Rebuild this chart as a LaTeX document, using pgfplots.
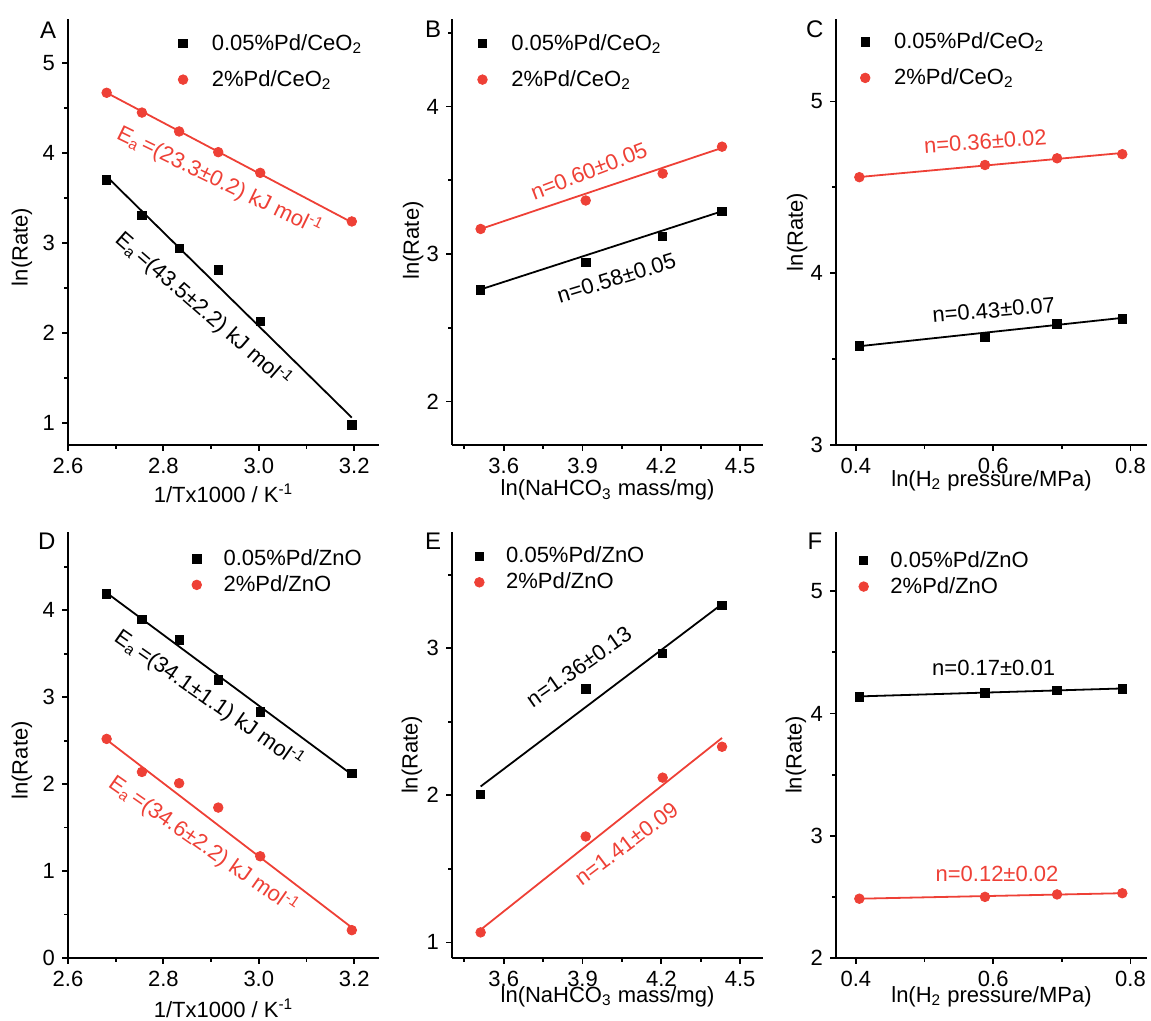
\documentclass[border=0pt]{standalone}
\usepackage{fontspec}
\setmainfont{Liberation Sans}
\usepackage{pgfplots}
\pgfplotsset{compat=1.18}

\definecolor{myred}{RGB}{238,64,54}
\newcommand{\fs}{\fontsize{11}{13}\selectfont}
\newcommand{\Ea}{E\textsubscript{a}\kern1.5pt}
\tikzset{letter/.style={font=\fontsize{12}{14}\selectfont}}

\pgfplotsset{
  panel/.style={
    scale only axis, width=155.5pt, height=213pt,
    anchor=south west,
    axis x line*=bottom, axis y line*=left,
    axis line style={line width=0.9pt, -},
    every tick/.style={line width=0.9pt, black},
    tick align=outside,
    major tick length=3pt, minor tick length=1.8pt,
    tick label style={font=\fs},
    label style={font=\fs},
    /pgf/number format/assume math mode=true,
    legend style={draw=none, fill=none, font=\fs, anchor=north west,
      nodes={inner sep=2pt}, row sep=4.5pt,
      /tikz/every odd column/.append style={column sep=10pt}},
    legend cell align=left,
    clip=false,
  },
  zno/.style={legend style={nodes={inner sep=1pt}, row sep=1.5pt}},
  blk/.style={only marks, mark=square*, mark size=2.1pt, black},
  rd/.style={only marks, mark=*, mark size=2.4pt, myred, mark options={fill=myred, draw=myred}},
  fitb/.style={black, line width=0.9pt, forget plot},
  fitr/.style={myred, line width=0.9pt, forget plot},
  onedec/.style={xticklabel style={/pgf/number format/fixed,
      /pgf/number format/fixed zerofill, /pgf/number format/precision=1}},
}

\begin{document}
\begin{tikzpicture}
\path[use as bounding box] (0,0) rectangle (575.5pt,510.5pt);

% ---------- A ----------
\begin{axis}[panel, onedec, at={(34pt,288pt)},
  xmin=2.6, xmax=3.252, ymin=0.756, ymax=5.49,
  xtick={2.6,2.8,3.0,3.2}, minor xtick={2.7,2.9,3.1},
  ytick={1,2,3,4,5}, minor ytick={1.5,2.5,3.5,4.5},
  xlabel={1/Tx1000 / K\textsuperscript{-1}}, ylabel={ln(Rate)},
  xlabel style={at={(axis description cs:0.5,-0.113)}, anchor=center},
  ylabel style={at={(axis description cs:-0.148,0.465)}, anchor=center},
  legend style={at={(axis description cs:0.334,0.984)}}]
\addplot[fitb] coordinates {(2.681,3.74) (3.195,1.06)};
\addplot[fitr] coordinates {(2.681,4.67) (3.195,3.23)};
\addplot[blk] coordinates {(2.681,3.70) (2.755,3.31) (2.833,2.94) (2.915,2.70) (3.003,2.13) (3.195,0.98)};
\addplot[rd] coordinates {(2.681,4.67) (2.755,4.45) (2.833,4.24) (2.915,4.01) (3.003,3.78) (3.195,3.24)};
\legend{0.05\%Pd/CeO\textsubscript{2}, 2\%Pd/CeO\textsubscript{2}}
\node[font=\fs, rotate=-26, text=myred] at (2.918,3.69) {\Ea=(23.3±0.2) kJ mol\textsuperscript{-1}};
\node[font=\fs, rotate=-41] at (2.884,2.256) {\Ea=(43.5±2.2) kJ mol\textsuperscript{-1}};
\node[letter] at (axis description cs:-0.064,0.974) {A};
\end{axis}

% ---------- B ----------
\begin{axis}[panel, at={(226pt,288pt)},
  xmin=3.403, xmax=4.587, ymin=1.705, ymax=4.594,
  xtick={3.6,3.9,4.2,4.5}, minor xtick={3.45,3.75,4.05,4.35},
  ytick={2,3,4}, minor ytick={2.5,3.5,4.5},
  xlabel={ln(NaHCO\textsubscript{3} mass/mg)}, ylabel={ln(Rate)},
  xlabel style={at={(axis description cs:0.5,-0.106)}, anchor=center},
  ylabel style={at={(axis description cs:-0.125,0.48)}, anchor=center},
  legend style={at={(axis description cs:0.062,0.984)}}]
\addplot[fitb] coordinates {(3.512,2.76) (4.431,3.29)};
\addplot[fitr] coordinates {(3.512,3.17) (4.431,3.72)};
\addplot[blk] coordinates {(3.512,2.757) (3.912,2.943) (4.205,3.12) (4.431,3.29)};
\addplot[rd] coordinates {(3.512,3.17) (3.912,3.363) (4.205,3.546) (4.431,3.728)};
\legend{0.05\%Pd/CeO\textsubscript{2}, 2\%Pd/CeO\textsubscript{2}}
\node[font=\fs, rotate=21, text=myred] at (3.924,3.562) {n=0.60±0.05};
\node[font=\fs, rotate=17] at (4.029,2.837) {n=0.58±0.05};
\node[letter] at (axis description cs:-0.061,0.977) {B};
\end{axis}

% ---------- C ----------
\begin{axis}[panel, onedec, at={(418pt,288pt)},
  xmin=0.371, xmax=0.824, ymin=3, ymax=5.48,
  xtick={0.4,0.6,0.8}, minor xtick={0.5,0.7},
  ytick={3,4,5}, minor ytick={3.5,4.5},
  xlabel={ln(H\textsubscript{2} pressure/MPa)}, ylabel={ln(Rate)},
  xlabel style={at={(axis description cs:0.5,-0.083)}, anchor=center},
  ylabel style={at={(axis description cs:-0.125,0.50)}, anchor=center},
  legend style={at={(axis description cs:0.058,0.988)}}]
\addplot[fitb] coordinates {(0.405,3.575) (0.788,3.74)};
\addplot[fitr] coordinates {(0.405,4.56) (0.788,4.70)};
\addplot[blk] coordinates {(0.405,3.576) (0.588,3.625) (0.693,3.704) (0.788,3.733)};
\addplot[rd] coordinates {(0.405,4.559) (0.588,4.63) (0.693,4.669) (0.788,4.693)};
\legend{0.05\%Pd/CeO\textsubscript{2}, 2\%Pd/CeO\textsubscript{2}}
\node[font=\fs, rotate=4, text=myred] at (0.5885,4.767) {n=0.36±0.02};
\node[font=\fs, rotate=5] at (0.6006,3.786) {n=0.43±0.07};
\node[letter] at (axis description cs:-0.068,0.975) {C};
\end{axis}

% ---------- D ----------
\begin{axis}[panel, zno, onedec, at={(34pt,31.5pt)},
  xmin=2.6, xmax=3.252, ymin=0, ymax=4.9,
  xtick={2.6,2.8,3.0,3.2}, minor xtick={2.7,2.9,3.1},
  ytick={0,1,2,3,4}, minor ytick={0.5,1.5,2.5,3.5,4.5},
  xlabel={1/Tx1000 / K\textsuperscript{-1}}, ylabel={ln(Rate)},
  xlabel style={at={(axis description cs:0.5,-0.118)}, anchor=center},
  ylabel style={at={(axis description cs:-0.148,0.464)}, anchor=center},
  legend style={at={(axis description cs:0.378,0.974)}}]
\addplot[fitb] coordinates {(2.681,4.20) (3.195,2.11)};
\addplot[fitr] coordinates {(2.681,2.51) (3.195,0.35)};
\addplot[blk] coordinates {(2.681,4.19) (2.755,3.896) (2.833,3.66) (2.915,3.20) (3.003,2.83) (3.195,2.12)};
\addplot[rd] coordinates {(2.681,2.52) (2.755,2.14) (2.833,2.01) (2.915,1.73) (3.003,1.17) (3.195,0.32)};
\legend{0.05\%Pd/ZnO, 2\%Pd/ZnO}
\node[font=\fs, rotate=-35] at (2.896,2.975) {\Ea=(34.1±1.1) kJ mol\textsuperscript{-1}};
\node[font=\fs, rotate=-35, text=myred] at (2.884,1.30) {\Ea=(34.6±2.2) kJ mol\textsuperscript{-1}};
\node[letter] at (axis description cs:-0.068,0.978) {D};
\end{axis}

% ---------- E ----------
\begin{axis}[panel, zno, at={(226pt,31.5pt)},
  xmin=3.403, xmax=4.587, ymin=0.894, ymax=3.79,
  xtick={3.6,3.9,4.2,4.5}, minor xtick={3.45,3.75,4.05,4.35},
  ytick={1,2,3}, minor ytick={1.5,2.5,3.5},
  xlabel={ln(NaHCO\textsubscript{3} mass/mg)}, ylabel={ln(Rate)},
  xlabel style={at={(axis description cs:0.5,-0.091)}, anchor=center},
  ylabel style={at={(axis description cs:-0.129,0.477)}, anchor=center},
  legend style={at={(axis description cs:0.052,0.980)}}]
\addplot[fitb] coordinates {(3.512,2.06) (4.431,3.30)};
\addplot[fitr] coordinates {(3.512,1.086) (4.431,2.39)};
\addplot[blk] coordinates {(3.512,2.005) (3.912,2.723) (4.205,2.966) (4.431,3.29)};
\addplot[rd] coordinates {(3.512,1.068) (3.912,1.72) (4.205,2.12) (4.431,2.33)};
\legend{0.05\%Pd/ZnO, 2\%Pd/ZnO}
\node[font=\fs, rotate=35] at (3.886,2.875) {n=1.36±0.13};
\node[font=\fs, rotate=37, text=myred] at (4.067,1.671) {n=1.41±0.09};
\node[letter] at (axis description cs:-0.061,0.979) {E};
\end{axis}

% ---------- F ----------
\begin{axis}[panel, zno, onedec, at={(418pt,31.5pt)},
  xmin=0.371, xmax=0.824, ymin=2, ymax=5.485,
  xtick={0.4,0.6,0.8}, minor xtick={0.5,0.7},
  ytick={2,3,4,5}, minor ytick={2.5,3.5,4.5},
  xlabel={ln(H\textsubscript{2} pressure/MPa)}, ylabel={ln(Rate)},
  xlabel style={at={(axis description cs:0.5,-0.091)}, anchor=center},
  ylabel style={at={(axis description cs:-0.129,0.477)}, anchor=center},
  legend style={at={(axis description cs:0.053,0.970)}}]
\addplot[fitb] coordinates {(0.405,4.14) (0.788,4.205)};
\addplot[fitr] coordinates {(0.405,2.485) (0.788,2.53)};
\addplot[blk] coordinates {(0.405,4.137) (0.588,4.17) (0.693,4.19) (0.788,4.20)};
\addplot[rd] coordinates {(0.405,2.485) (0.588,2.50) (0.693,2.52) (0.788,2.53)};
\legend{0.05\%Pd/ZnO, 2\%Pd/ZnO}
\node[font=\fs] at (0.6006,4.37) {n=0.17±0.01};
\node[font=\fs, text=myred] at (0.6055,2.69) {n=0.12±0.02};
\node[letter] at (axis description cs:-0.068,0.978) {F};
\end{axis}
\end{tikzpicture}
\end{document}
